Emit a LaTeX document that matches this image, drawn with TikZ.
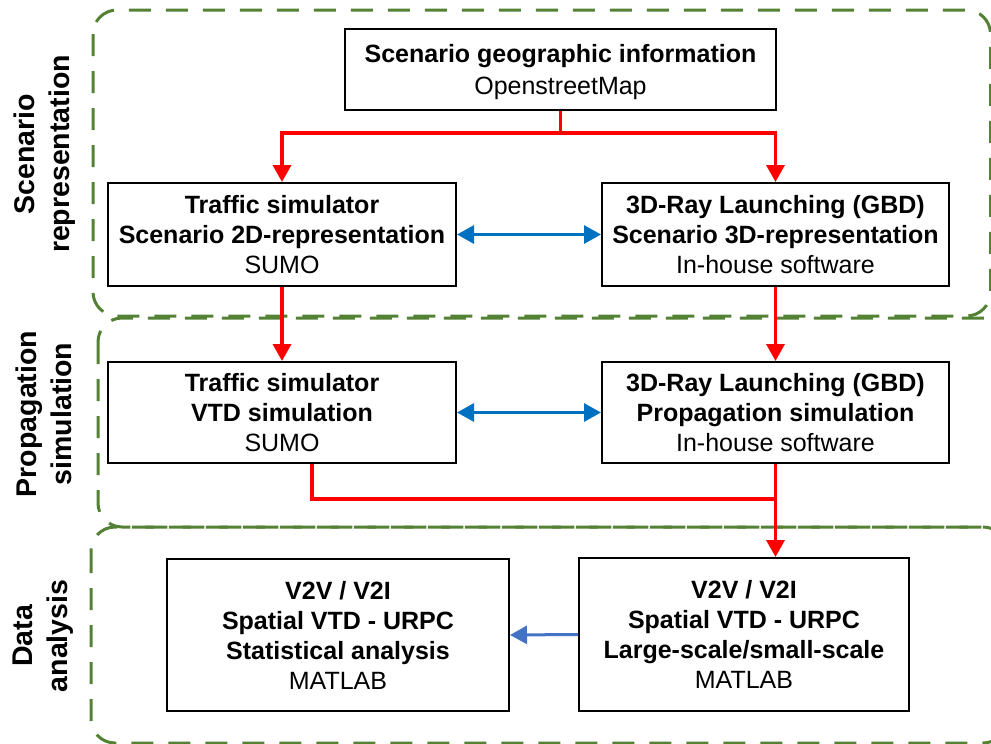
\documentclass[tikz,border=0pt]{standalone}
\usepackage{fontspec}
\setmainfont{Liberation Sans}
\usetikzlibrary{arrows.meta}
\definecolor{grp}{HTML}{548235}
\definecolor{blueA}{HTML}{0070C0}
\definecolor{blueB}{HTML}{4472C4}
\definecolor{redA}{HTML}{FF0000}
\begin{document}
\begin{tikzpicture}[x=1pt,y=-1pt,
  grpbox/.style={draw=grp, line width=3pt, dash pattern=on 22pt off 15pt, rounded corners=24pt},
  procbox/.style={draw=black, line width=2pt, fill=white, align=center, inner sep=0pt, font=\fontsize{25}{30}\selectfont},
  sidelabel/.style={rotate=90, font=\fontsize{28.5}{35}\selectfont\bfseries, inner sep=0pt},
  redline/.style={draw=redA, line width=3.5pt},
  redarrow/.style={redline, -{Triangle[width=18pt,length=17pt]}},
  bluearrow/.style={draw=blueA, line width=3pt, {Triangle[width=18pt,length=17pt]}-{Triangle[width=18pt,length=17pt]}},
  bluearrowB/.style={draw=blueB, line width=3pt, -{Triangle[width=18pt,length=17pt]}}
]
\useasboundingbox (0,0) rectangle (991,744);

% group frames
\draw[grpbox] (93,10) rectangle (990.5,316);
\draw[grpbox] (98,318) rectangle (1007,527);
\draw[grpbox] (91,527) rectangle (1007,743);

% side labels
\node[sidelabel, align=center] (lab1) at (45,154) {Scenario\\representation};
\node[sidelabel, align=center] (lab2) at (44,414) {Propagation\\simulation};
\node[sidelabel, align=center] (lab3) at (43,636) {Data\\analysis};

% process boxes
\node[procbox, font=\fontsize{25}{32}\selectfont, minimum width=431pt, minimum height=81pt] (geo) at (560.5,69.5)
  {\rule{0pt}{24pt}\textbf{Scenario geographic information}\\OpenstreetMap};
\node[procbox, minimum width=348pt, minimum height=103pt] (trafA) at (282,234.5)
  {\textbf{Traffic simulator}\\\textbf{Scenario 2D-representation}\\SUMO};
\node[procbox, minimum width=347pt, minimum height=103pt] (rayA) at (775.5,234.5)
  {\textbf{3D-Ray Launching (GBD)}\\\textbf{Scenario 3D-representation}\\In-house software};
\node[procbox, minimum width=348pt, minimum height=101pt] (trafB) at (282,412.5)
  {\textbf{Traffic simulator}\\\textbf{VTD simulation}\\SUMO};
\node[procbox, minimum width=347pt, minimum height=101pt] (rayB) at (775.5,412.5)
  {\textbf{3D-Ray Launching (GBD)}\\\textbf{Propagation simulation}\\In-house software};
\node[procbox, minimum width=342pt, minimum height=152pt] (dataL) at (338,635)
  {\textbf{V2V / V2I}\\\textbf{Spatial VTD - URPC}\\\textbf{Statistical analysis}\\MATLAB};
\node[procbox, minimum width=330pt, minimum height=153pt] (dataR) at (744,634.5)
  {\textbf{V2V / V2I}\\\textbf{Spatial VTD - URPC}\\\textbf{Large-scale/small-scale}\\MATLAB};

% red flow
\path (geo.south) ++(0,22) coordinate (j1);
\draw[redline] (geo.south) -- (j1);
\draw[redarrow] (j1) -| (trafA.north);
\draw[redarrow] (j1) -| (rayA.north);
\draw[redarrow] (trafA.south) -- (trafB.north);
\draw[redarrow] (rayA.south) -- (rayB.north);
\coordinate (t1) at ([xshift=30pt]trafB.south);
\path (rayB.south) ++(0,35) coordinate (j2);
\draw[redline] (t1) |- (j2);
\draw[redarrow] (rayB.south) -- (rayB.south |- dataR.north);

% blue links
\draw[bluearrow] (trafA.east) -- (rayA.west);
\draw[bluearrow] (trafB.east) -- (rayB.west);
\draw[bluearrowB] (dataR.west) -- (dataL.east);
\end{tikzpicture}
\end{document}
